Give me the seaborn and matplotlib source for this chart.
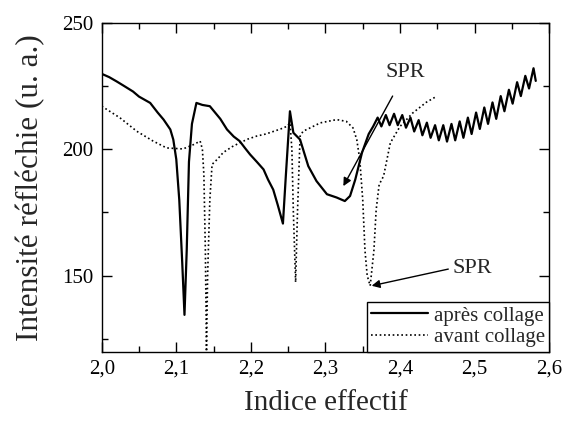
import numpy as np
import pandas as pd
import seaborn as sns
import matplotlib.pyplot as plt
from matplotlib.ticker import MultipleLocator, FuncFormatter

# --- values ---
# "après collage" (solid)
apres_x = [2.000, 2.010, 2.020, 2.030, 2.042, 2.050, 2.065, 2.075, 2.083, 2.092,
           2.096, 2.100, 2.104, 2.108, 2.111, 2.114, 2.117, 2.121, 2.127, 2.135,
           2.145, 2.152, 2.159, 2.168, 2.177, 2.185, 2.192, 2.199, 2.208, 2.217,
           2.223, 2.230, 2.236, 2.243, 2.247, 2.2524, 2.257, 2.266, 2.277, 2.288,
           2.302, 2.315, 2.326, 2.333, 2.340, 2.349, 2.358, 2.364,
           2.370, 2.375, 2.381, 2.386, 2.392, 2.397, 2.403, 2.408, 2.414, 2.419,
           2.425, 2.430, 2.436, 2.441, 2.447, 2.452, 2.458, 2.463, 2.469, 2.474,
           2.480, 2.485, 2.491, 2.496, 2.502, 2.507, 2.513, 2.518, 2.524, 2.529,
           2.535, 2.540, 2.546, 2.551, 2.557, 2.562, 2.568, 2.573, 2.579, 2.582]
apres_y = [229.8, 228.5, 226.8, 225.0, 222.8, 220.8, 218.3, 214.5, 211.7, 207.8,
           203.8, 196.0, 180.0, 155.0, 134.5, 160.0, 195.0, 210.0, 218.3, 217.5,
           217.0, 214.5, 212.0, 207.8, 205.0, 203.2, 200.5, 197.9, 195.0, 192.0,
           188.0, 184.0, 178.0, 170.6, 190.0, 215.0, 206.5, 203.8, 193.3, 187.4,
           182.2, 180.9, 179.5, 181.5, 188.0, 198.6, 206.0, 209.0,
           212.5, 209.0, 213.5, 209.5, 214.0, 209.5, 213.5, 208.5, 212.5, 207.0,
           211.5, 205.5, 210.5, 204.5, 209.5, 203.5, 209.5, 203.0, 210.0, 203.5,
           211.0, 204.5, 212.5, 206.0, 214.5, 208.0, 216.5, 210.0, 218.5, 212.0,
           221.0, 215.0, 223.5, 218.0, 226.5, 221.0, 229.0, 224.0, 232.0, 227.0]

# "avant collage" (dotted)
avant_x = [2.000, 2.0245, 2.047, 2.069, 2.087, 2.109, 2.123, 2.132, 2.135, 2.137,
           2.139, 2.1405, 2.142, 2.145, 2.148, 2.155, 2.163, 2.175, 2.185, 2.196,
           2.208, 2.220, 2.230, 2.240, 2.248, 2.2525, 2.255, 2.257, 2.260, 2.2625,
           2.266, 2.270, 2.280, 2.293, 2.315, 2.328, 2.337, 2.342, 2.346, 2.350,
           2.353, 2.356, 2.360, 2.365, 2.368, 2.372, 2.378, 2.387, 2.400, 2.417,
           2.435, 2.449]
avant_y = [217.0, 212.4, 207.1, 203.2, 200.5, 200.1, 201.8, 203.2, 200.0, 190.0,
           160.0, 120.0, 150.0, 180.0, 194.0, 196.0, 198.7, 201.0, 202.5, 204.0,
           205.2, 206.0, 207.0, 208.0, 209.0, 210.4, 200.0, 175.0, 147.4, 175.0,
           205.1, 207.1, 208.5, 210.4, 211.7, 211.0, 208.4, 203.8, 196.0, 180.0,
           160.0, 150.0, 146.0, 160.0, 176.0, 186.0, 189.4, 202.5, 209.0, 214.3,
           218.5, 220.9]

x_ticks = [2.0, 2.1, 2.2, 2.3, 2.4, 2.5, 2.6]
y_ticks = [150, 200, 250]

sns.set_style('ticks')
plt.rcParams['font.family'] = ['Liberation Serif', 'DejaVu Serif']

fig, ax = plt.subplots(figsize=(5.65, 4.21), dpi=100)
fig.subplots_adjust(left=0.18, right=0.972, top=0.946, bottom=0.165)

df_apres = pd.DataFrame({'x': apres_x, 'y': apres_y})
df_avant = pd.DataFrame({'x': avant_x, 'y': avant_y})

sns.lineplot(data=df_apres, x='x', y='y', ax=ax, color='black', lw=1.6,
             estimator=None, sort=False, label='après collage')
sns.lineplot(data=df_avant, x='x', y='y', ax=ax, color='black', lw=1.2,
             dashes=False, estimator=None, sort=False, label='avant collage')
ax.lines[1].set_dashes([1, 1.6])

ax.set_xlim(2.0, 2.6)
ax.set_ylim(120, 250)
ax.set_xticks(x_ticks)
ax.set_yticks(y_ticks)
ax.xaxis.set_minor_locator(MultipleLocator(0.05))
ax.yaxis.set_minor_locator(MultipleLocator(25))
ax.xaxis.set_major_formatter(FuncFormatter(lambda v, p: f"{v:.1f}".replace('.', ',')))
ax.tick_params(which='both', direction='in', top=True, right=True, colors='black',
               labelsize=15, width=1, pad=6)
ax.tick_params(which='major', length=7)
ax.tick_params(which='minor', length=4)
for s in ax.spines.values():
    s.set_color('black')
    s.set_linewidth(1)

ax.set_xlabel('Indice effectif', fontsize=21, labelpad=8)
ax.set_ylabel('Intensité réfléchie (u. a.)', fontsize=22.5, labelpad=12)

ax.annotate('SPR', xy=(2.324, 185.4), xytext=(2.4075, 230.4), fontsize=16,
            ha='center', va='center',
            arrowprops=dict(arrowstyle='-|>', color='black', lw=1, mutation_scale=12,
                            shrinkA=9, shrinkB=0))
ax.annotate('SPR', xy=(2.362, 146.0), xytext=(2.4975, 153.0), fontsize=16,
            ha='center', va='center',
            arrowprops=dict(arrowstyle='-|>', color='black', lw=1, mutation_scale=12,
                            shrinkA=1, shrinkB=0, relpos=(0.0, 0.5)))

leg = ax.legend(loc='lower right', borderaxespad=0, fontsize=15, frameon=True,
                fancybox=False, framealpha=1, edgecolor='black',
                handlelength=2.7, handletextpad=0.3, borderpad=0.2, labelspacing=0.1)
leg.get_frame().set_linewidth(1)
leg.get_lines()[1].set_dashes([1, 1.6])

plt.savefig('out.png', dpi=100)
